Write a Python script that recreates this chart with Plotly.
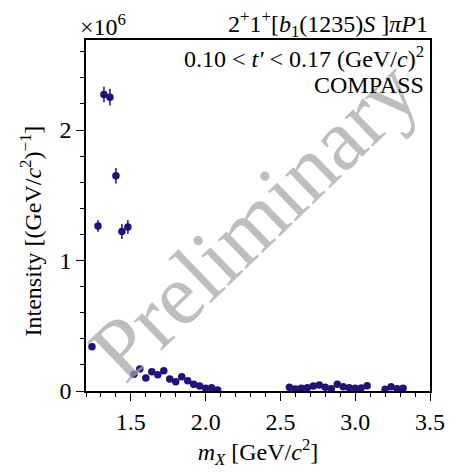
import plotly.graph_objects as go

# m_X bin centres [GeV/c^2]
mass = [1.24, 1.28, 1.32, 1.36, 1.40, 1.44, 1.48, 1.52, 1.56, 1.60, 1.64, 1.68, 1.72,
        1.76, 1.80, 1.84, 1.88, 1.92, 1.96, 2.00, 2.04, 2.08,
        2.56, 2.60, 2.64, 2.68, 2.72, 2.76, 2.80, 2.84, 2.88, 2.92, 2.96, 3.00, 3.04, 3.08,
        3.20, 3.24, 3.28, 3.32]
# intensity in units of 10^6 (GeV/c^2)^-1
intensity = [0.339, 1.265, 2.272, 2.252, 1.650, 1.222, 1.257, 0.128, 0.168, 0.099, 0.148, 0.125, 0.155,
             0.092, 0.071, 0.110, 0.079, 0.051, 0.038, 0.021, 0.025, 0.008,
             0.028, 0.015, 0.021, 0.025, 0.038, 0.046, 0.028, 0.018, 0.051, 0.033, 0.025, 0.021, 0.023, 0.041,
             0.013, 0.033, 0.018, 0.021]
errors = [0.020, 0.045, 0.060, 0.064, 0.059, 0.058, 0.053, 0.015, 0.015, 0.015, 0.015, 0.015, 0.015,
          0.012, 0.012, 0.012, 0.012, 0.010, 0.010, 0.008, 0.008, 0.006,
          0.008, 0.008, 0.008, 0.008, 0.008, 0.008, 0.008, 0.008, 0.008, 0.008, 0.008, 0.008, 0.008, 0.008,
          0.008, 0.008, 0.008, 0.008]

x_ticks = [1.5, 2.0, 2.5, 3.0, 3.5]
x_tick_labels = ["1.5", "2.0", "2.5", "3.0", "3.5"]
y_ticks = [0, 1, 2]
y_tick_labels = ["0", "1", "2"]

FONT = "Liberation Serif"
COLOR = "#24107a"
FS = 24

fig = go.Figure()
fig.add_trace(go.Scatter(
    x=mass, y=intensity, mode="markers",
    marker=dict(color=COLOR, size=7.5),
    error_y=dict(type="data", array=errors, color=COLOR, thickness=1.5, width=0),
    showlegend=False,
))

fig.update_layout(
    width=449, height=464,
    margin=dict(l=78, r=20, t=32, b=81),
    paper_bgcolor="white", plot_bgcolor="white",
    font=dict(family=FONT, size=FS, color="black"),
    xaxis=dict(
        range=[1.2, 3.5], tickvals=x_ticks, ticktext=x_tick_labels,
        ticks="outside", ticklen=8, tickwidth=1.3, tickcolor="black",
        minor=dict(dtick=0.1, tick0=1.2, ticks="outside", ticklen=4, tickwidth=1.1, tickcolor="black"),
        showline=True, linecolor="black", linewidth=1.5, mirror=True,
        showgrid=False, zeroline=False,
        title=dict(text="<i>m<sub>X</sub></i> [GeV/<i>c</i><sup>2</sup>]", standoff=6,
                   font=dict(size=FS)),
        tickfont=dict(size=FS),
    ),
    yaxis=dict(
        range=[0, 2.69], tickvals=y_ticks, ticktext=y_tick_labels,
        ticks="outside", ticklen=8, tickwidth=1.3, tickcolor="black",
        minor=dict(dtick=0.2, tick0=0, ticks="outside", ticklen=4, tickwidth=1.1, tickcolor="black"),
        showline=True, linecolor="black", linewidth=1.5, mirror=True,
        showgrid=False, zeroline=False,
        tickfont=dict(size=FS),
    ),
)

# y-axis title (as annotation to place it like the reference)
fig.add_annotation(
    text="Intensity [(GeV/<i>c</i><sup>2</sup>)<sup>−1</sup>]",
    x=0, y=0.5, xref="paper", yref="paper", xanchor="center", yanchor="middle",
    xshift=-56, yshift=-16, textangle=-90, showarrow=False,
    font=dict(family=FONT, size=FS),
)

# watermark
fig.add_annotation(
    text="Preliminary", x=2.32, y=1.31, xref="x", yref="y",
    showarrow=False, textangle=-44,
    font=dict(family=FONT, size=88, color="rgba(165,165,165,0.72)"),
)

# exponent label
fig.add_annotation(
    text="×10<sup>6</sup>", x=0, y=1.0, xref="paper", yref="paper",
    xanchor="left", yanchor="bottom", xshift=-8, yshift=-2,
    showarrow=False, font=dict(family=FONT, size=FS),
)
# wave title
fig.add_annotation(
    text="2<sup>+</sup>1<sup>+</sup>[<i>b</i><sub>1</sub>(1235)<i>S</i> ]<i>πP</i>1",
    x=1.0, y=1.0, xref="paper", yref="paper",
    xanchor="right", yanchor="bottom", yshift=-3,
    showarrow=False, font=dict(family=FONT, size=FS),
)
# t' range
fig.add_annotation(
    text="0.10 < <i>t′</i> < 0.17 (GeV/<i>c</i>)<sup>2</sup>",
    x=1.0, y=1.0, xref="paper", yref="paper",
    xanchor="right", yanchor="top", xshift=-4, yshift=0,
    showarrow=False, font=dict(family=FONT, size=FS),
)
fig.add_annotation(
    text="COMPASS",
    x=1.0, y=1.0, xref="paper", yref="paper",
    xanchor="right", yanchor="top", xshift=-4, yshift=-30,
    showarrow=False, font=dict(family=FONT, size=FS),
)

fig.write_html("out.html")
